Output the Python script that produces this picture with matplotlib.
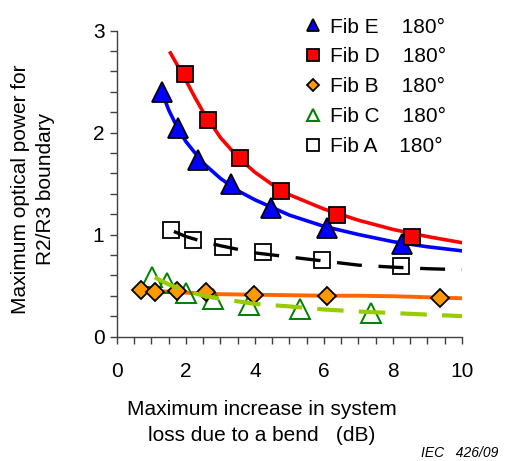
import matplotlib
matplotlib.use("Agg")
import matplotlib.pyplot as plt

plt.rcParams["font.family"] = ["Liberation Sans", "DejaVu Sans"]
plt.rcParams["lines.scale_dashes"] = False

# measured points (loss increase in dB, max optical power)
fib_e_x = [1.30, 1.78, 2.36, 3.30, 4.45, 6.10, 8.27]
fib_e_y = [2.40, 2.04, 1.73, 1.50, 1.26, 1.06, 0.91]
fib_d_x = [1.97, 2.65, 3.57, 4.75, 6.37, 8.56]
fib_d_y = [2.57, 2.12, 1.75, 1.43, 1.19, 0.98]
fib_b_x = [0.69, 1.10, 1.73, 2.58, 3.98, 6.08, 9.36]
fib_b_y = [0.46, 0.44, 0.45, 0.44, 0.41, 0.40, 0.38]
fib_c_x = [1.02, 1.44, 2.00, 2.79, 3.83, 5.30, 7.35]
fib_c_y = [0.58, 0.52, 0.43, 0.37, 0.31, 0.27, 0.23]
fib_a_x = [1.58, 2.21, 3.06, 4.24, 5.93, 8.23]
fib_a_y = [1.04, 0.95, 0.88, 0.83, 0.75, 0.69]

# trend lines
trend_e_x = [1.30, 1.50, 1.75, 2.0, 2.5, 3.0, 3.5, 4.0, 5.0, 6.0, 7.0, 8.0, 9.0, 10.0]
trend_e_y = [2.40, 2.22, 2.05, 1.91, 1.70, 1.55, 1.43, 1.34, 1.19, 1.08, 1.00, 0.93, 0.88, 0.84]
trend_d_x = [1.55, 1.75, 2.0, 2.25, 2.5, 3.0, 3.5, 4.0, 4.5, 5.0, 6.0, 7.0, 8.0, 9.0, 10.0]
trend_d_y = [2.78, 2.66, 2.51, 2.35, 2.20, 1.95, 1.76, 1.61, 1.49, 1.39, 1.25, 1.14, 1.05, 0.98, 0.92]
trend_b_x = [0.96, 2.0, 3.0, 4.0, 5.0, 6.0, 7.0, 8.0, 9.0, 10.0]
trend_b_y = [0.45, 0.43, 0.415, 0.41, 0.405, 0.40, 0.40, 0.395, 0.385, 0.375]
trend_c_x = [1.10, 1.5, 2.0, 2.5, 3.0, 4.0, 5.0, 6.0, 7.0, 8.0, 9.0, 10.0]
trend_c_y = [0.58, 0.51, 0.45, 0.40, 0.37, 0.32, 0.295, 0.265, 0.245, 0.23, 0.215, 0.20]
trend_a_x = [1.65, 2.0, 2.5, 3.0, 4.0, 5.0, 6.0, 7.0, 8.0, 9.0, 10.0]
trend_a_y = [1.03, 0.98, 0.93, 0.89, 0.82, 0.78, 0.74, 0.70, 0.68, 0.665, 0.655]

x_ticks = [0, 2, 4, 6, 8, 10]
y_ticks = [0, 1, 2, 3]

fig = plt.figure(figsize=(5.06, 4.61), dpi=100)
ax = fig.add_axes([0.2312, 0.270, 0.6818, 0.6638])

# trend lines
ax.plot(trend_d_x, trend_d_y, color="#ff0000", lw=2.6, zorder=2)
ax.plot(trend_e_x, trend_e_y, color="#0000ff", lw=2.6, zorder=2)
ax.plot(trend_b_x, trend_b_y, color="#ff6600", lw=2.8, zorder=2)

# markers
ax.plot(fib_a_x, fib_a_y, "s", ms=12, mfc="none", mec="black", mew=1.3, zorder=3)
ax.plot(fib_c_x, fib_c_y, "^", ms=14, mfc="none", mec="#008000", mew=1.4, zorder=3)
ax.plot(fib_b_x, fib_b_y, "D", ms=9, mfc="#ff9900", mec="black", mew=1.3, zorder=3)
ax.plot(fib_e_x, fib_e_y, "^", ms=14, mfc="#0000ff", mec="black", mew=1.3, zorder=3)
ax.plot(fib_d_x, fib_d_y, "s", ms=12, mfc="#ff0000", mec="black", mew=1.3, zorder=3)

# dashed trend lines drawn over hollow markers
ax.plot(trend_a_x, trend_a_y, color="black", lw=2.4, dashes=(18, 12), zorder=4)
ax.plot(trend_c_x, trend_c_y, color="#99cc00", lw=3.0, dashes=(19, 11), zorder=4)

# legend handles
h_e, = ax.plot([], [], "^", ms=9, mfc="#0000ff", mec="black", mew=1.3)
h_d, = ax.plot([], [], "s", ms=8, mfc="#ff0000", mec="black", mew=1.3)
h_b, = ax.plot([], [], "D", ms=6.5, mfc="#ff9900", mec="black", mew=1.3)
h_c, = ax.plot([], [], "^", ms=9, mfc="none", mec="#008000", mew=1.5)
h_a, = ax.plot([], [], "s", ms=8, mfc="none", mec="black", mew=1.3)
fig.legend([h_e, h_d, h_b, h_c, h_a],
           ["Fib E    180°", "Fib D    180°", "Fib B    180°", "Fib C    180°", "Fib A    180°"],
           loc="upper left", bbox_to_anchor=(0.603, 0.962), frameon=False,
           fontsize=15, handlelength=0.8, handletextpad=0.4, labelspacing=0.52,
           borderpad=0.0, borderaxespad=0.0)

ax.set_xlim(0, 10)
ax.set_ylim(0, 3)
ax.set_xticks(x_ticks)
ax.set_yticks(y_ticks)
ax.set_xticks([i * 0.5 for i in range(21)], minor=True)
ax.set_yticks([i * 0.2 for i in range(16)], minor=True)
ax.tick_params(which="both", direction="out", color="#404040", width=1.0, length=5)
ax.tick_params(axis="x", labelsize=15, pad=13)
ax.tick_params(axis="y", labelsize=15, pad=4)

for side in ["top", "right"]:
    ax.spines[side].set_visible(False)
for side in ["left", "bottom"]:
    ax.spines[side].set_color("#404040")
    ax.spines[side].set_linewidth(1.0)

ax.set_xlabel("Maximum increase in system\nloss due to a bend   (dB)",
              fontsize=15, labelpad=14, linespacing=1.5)
ax.xaxis.label.set_x(0.42)
ax.set_ylabel("Maximum optical power for\nR2/R3 boundary",
              fontsize=15, labelpad=27, linespacing=1.4)
ax.yaxis.label.set_y(0.482)

fig.text(0.985, 0.003, "IEC   426/09", fontsize=10, style="italic", ha="right", va="bottom")

fig.savefig("out.png", dpi=100)
